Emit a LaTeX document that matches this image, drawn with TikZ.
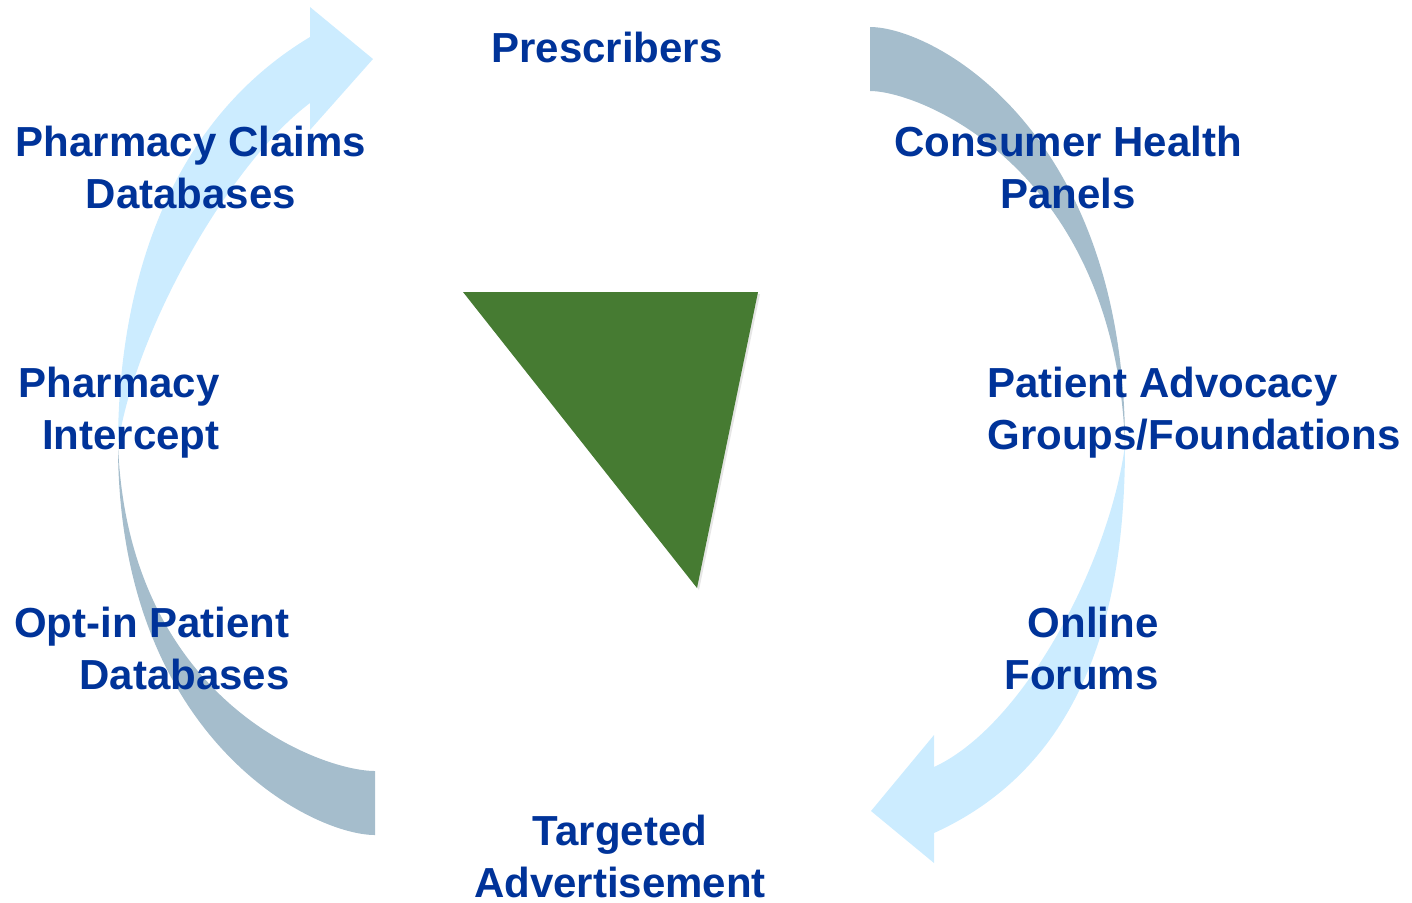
\documentclass[tikz,border=0pt]{standalone}
\usepackage{fontspec}
\setmainfont{Liberation Sans}
\usepackage{tikz}
\usetikzlibrary{positioning,shadows}

\definecolor{labelblue}{RGB}{0,51,153}
\definecolor{paleblue}{RGB}{204,236,255}
\definecolor{slateblue}{RGB}{165,189,204}
\definecolor{leafgreen}{RGB}{70,123,50}

\begin{document}
\begin{tikzpicture}[x=0.5pt, y=-0.5pt,
                    lbl/.style={inner sep=0pt, text=labelblue,
                                font=\fontsize{21}{25.75}\selectfont\bfseries},
                    lightarrow/.style={fill=paleblue},
                    greyarrow/.style={fill=slateblue}]
    \useasboundingbox (0,0) rectangle (1412,902);

    % left side: pale arrow going up, slate band going down
    \fill[lightarrow] (118,445) .. controls (118,300) and (160,127) .. (310,37)
        -- (310,7) -- (373,59) -- (310,130) -- (310,103)
        .. controls (230,163) and (135,330) .. (118,445) -- cycle;
    \fill[greyarrow] (118,445) .. controls (118,737) and (311,835) .. (375,835)
        -- (375,771) .. controls (320,771) and (128,700) .. (118,445) -- cycle;

    % right side: slate band from the top, pale arrow down to the bottom
    \fill[greyarrow] (870,27) .. controls (934,27) and (1125,131) .. (1125,445)
        .. controls (1115,170) and (921,91) .. (870,91) -- cycle;
    \fill[lightarrow] (1125,445) .. controls (1125,590) and (1095,760) .. (934,833)
        -- (934,863) -- (871,811) -- (934,735) -- (934,767)
        .. controls (1025,725) and (1110,560) .. (1125,445) -- cycle;

    % centre triangle
    \fill[leafgreen, drop shadow={shadow xshift=1pt, shadow yshift=-1pt, opacity=0.2}]
        (463,292) -- (758,292) -- (697,588) -- cycle;

    % labels round the cycle
    \node[lbl, anchor=north] (presc) at (607,32) {Prescribers};
    \node[lbl, anchor=north, align=center] (claims) at (191,126) {Pharmacy Claims\\Databases};
    \node[lbl, anchor=north, align=center] (panels) at (1068,126) {Consumer Health\\Panels};
    \node[lbl, anchor=north east, align=right] (intercept) at (220,367) {Pharmacy\\Intercept};
    \node[lbl, anchor=north west, align=left] (advocacy) at (987,367) {Patient Advocacy\\Groups/Foundations};
    \node[lbl, anchor=north east, align=right] (optin) at (290,607) {Opt-in Patient\\Databases};
    \node[lbl, anchor=north east, align=right] (forums) at (1159,607) {Online\\Forums};
    \node[lbl, anchor=north, align=center] (advert) at (620,815) {Targeted\\Advertisement};
\end{tikzpicture}
\end{document}
